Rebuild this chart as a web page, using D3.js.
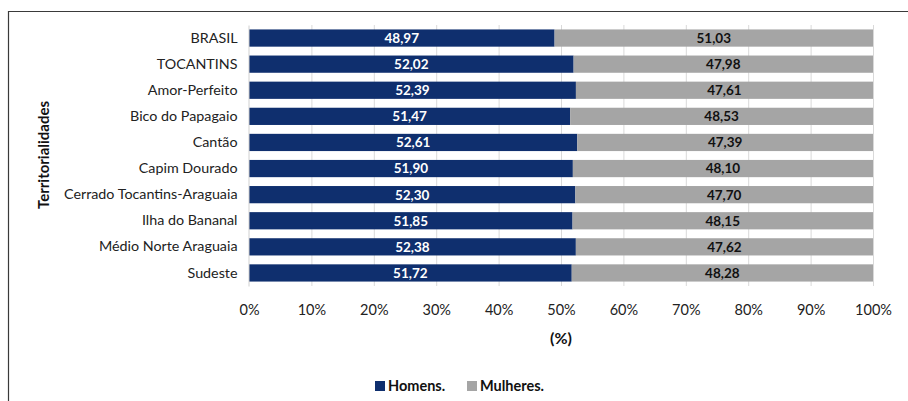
<!DOCTYPE html>
<html>
<head>
<meta charset="utf-8">
<script src="https://cdn.jsdelivr.net/npm/d3@7"></script>
<style>
  html, body { margin: 0; padding: 0; background: #fff; }
  svg { display: block; font-family: Lato, "Open Sans", sans-serif; }
</style>
</head>
<body>
<svg id="chart" width="908" height="401"></svg>
<script>
// Territorial units, top to bottom
const categories = [
  "BRASIL", "TOCANTINS", "Amor-Perfeito", "Bico do Papagaio", "Cantão",
  "Capim Dourado", "Cerrado Tocantins-Araguaia", "Ilha do Bananal",
  "Médio Norte Araguaia", "Sudeste"
];
// Share of population by sex (%)
const homens   = [48.97, 52.02, 52.39, 51.47, 52.61, 51.90, 52.30, 51.85, 52.38, 51.72];
const mulheres = [51.03, 47.98, 47.61, 48.53, 47.39, 48.10, 47.70, 48.15, 47.62, 48.28];
const seriesNames = ["Homens.", "Mulheres."];
const tickValues = [0, 10, 20, 30, 40, 50, 60, 70, 80, 90, 100];

const colors = { "Homens.": "#0f2f6e", "Mulheres.": "#a5a5a5" };
const fmt = v => v.toFixed(2).replace(".", ",");
const FONT = "Lato, 'Open Sans', sans-serif";

const svg = d3.select("#chart");

// outer frame (top and left edges)
svg.append("path")
  .attr("d", "M8.5,401 L8.5,11.5 L908,11.5")
  .attr("fill", "none").attr("stroke", "#3a3a3a").attr("stroke-width", 1.2);

const x = d3.scaleLinear().domain([0, 100]).range([249, 873]);
const y = d3.scaleBand().domain(categories).range([25, 286]).paddingInner(0.34).paddingOuter(0.17);

// vertical gridlines
svg.append("g").selectAll("line").data(tickValues.slice(1)).join("line")
  .attr("x1", d => x(d) + 0.5).attr("x2", d => x(d) + 0.5)
  .attr("y1", 25).attr("y2", 286)
  .attr("stroke", "#d9d9d9").attr("stroke-width", 1);

// stacked data
const rows = categories.map((c, i) => ({ cat: c, "Homens.": homens[i], "Mulheres.": mulheres[i] }));
const stack = d3.stack().keys(seriesNames)(rows);

const layers = svg.append("g").selectAll("g").data(stack).join("g")
  .attr("fill", d => colors[d.key]);

layers.selectAll("rect").data(d => d).join("rect")
  .attr("x", d => x(d[0]))
  .attr("width", d => x(d[1]) - x(d[0]))
  .attr("y", d => y(d.data.cat))
  .attr("height", y.bandwidth());

// value labels centred in each segment
svg.append("g").selectAll("g").data(stack).join("g")
  .attr("fill", d => d.key === "Homens." ? "#ffffff" : "#111111")
  .selectAll("text").data(d => d.map(s => ({ s, key: d.key }))).join("text")
  .attr("x", d => (x(d.s[0]) + x(d.s[1])) / 2)
  .attr("y", d => y(d.s.data.cat) + y.bandwidth() / 2)
  .attr("dy", "0.36em")
  .attr("text-anchor", "middle")
  .attr("font-size", 13.5).attr("font-weight", "bold")
  .text(d => fmt(d.s.data[d.key]));

// y axis
const yAxis = svg.append("g").attr("transform", "translate(248.5,0)")
  .call(d3.axisLeft(y).tickSize(0).tickPadding(11));
yAxis.select(".domain").attr("stroke", "#d0d0d0");
yAxis.selectAll("text").attr("font-size", 14.3).attr("fill", "#222").attr("font-family", FONT);

// x axis labels
const xAxis = svg.append("g").attr("transform", "translate(0,286)")
  .call(d3.axisBottom(x).tickValues(tickValues).tickSize(0).tickPadding(19).tickFormat(d => d + "%"));
xAxis.select(".domain").remove();
xAxis.selectAll("text").attr("font-size", 14.5).attr("fill", "#222").attr("font-family", FONT);

// axis titles
svg.append("text")
  .attr("x", 561).attr("y", 344)
  .attr("text-anchor", "middle").attr("font-size", 16).attr("font-weight", "bold").attr("fill", "#111")
  .text("(%)");

svg.append("text")
  .attr("transform", "translate(49,155) rotate(-90)")
  .attr("text-anchor", "middle").attr("font-size", 15).attr("font-weight", "bold").attr("fill", "#111")
  .text("Territorialidades");

// legend
const legend = svg.append("g").attr("transform", "translate(375,386)");
const legendX = [0, 92];
seriesNames.forEach((name, i) => {
  const g = legend.append("g").attr("transform", `translate(${legendX[i]},0)`);
  g.append("rect").attr("x", 0).attr("y", -5).attr("width", 10).attr("height", 10).attr("fill", colors[name]);
  g.append("text").attr("x", 13).attr("y", 0).attr("dy", "0.36em")
    .attr("font-size", 14.5).attr("font-weight", "bold").attr("fill", "#111").text(name);
});
</script>
</body>
</html>
